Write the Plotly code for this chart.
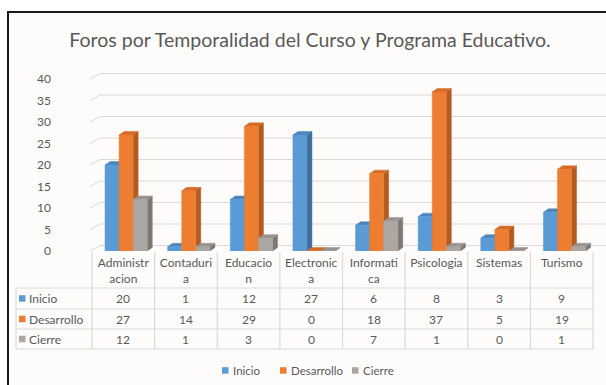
import plotly.graph_objects as go

# Data
programas = ["Administr<br>acion", "Contaduri<br>a", "Educacio<br>n", "Electronic<br>a",
             "Informati<br>ca", "Psicologia", "Sistemas", "Turismo"]
series = ["Inicio", "Desarrollo", "Cierre"]
inicio = [20, 1, 12, 27, 6, 8, 3, 9]
desarrollo = [27, 14, 29, 0, 18, 37, 5, 19]
cierre = [12, 1, 3, 0, 7, 1, 0, 1]
y_ticks = [0, 5, 10, 15, 20, 25, 30, 35, 40]

valores = [inicio, desarrollo, cierre]
front = ["#5b9bd5", "#ed7d31", "#aca6a2"]
top = ["#4c86bc", "#d56c27", "#99938f"]
side = ["#3d6e9c", "#b35b21", "#7d7874"]

FONT = "Lato"
TXT = "#595959"
GRID = "#dcd9d6"

W, H = 606, 385
L, R, T, B = 92, 593, 60, 251   # plot area in pixels
YMAX = (B - T) / ((B - 79) / 40)


def px(x):
    return (x - L) / (R - L)


def py(y):
    return (B - y) / (B - T)


# 3D bar geometry (data units)
offsets = [-0.18, 0.045, 0.27]
bw = 0.224
dx = 0.08
dy = 0.8

fig = go.Figure()

for s in range(3):
    for i, v in enumerate(valores[s]):
        x0 = i + offsets[s] - bw / 2
        x1 = x0 + bw
        # right side face
        fig.add_trace(go.Scatter(
            x=[x1, x1 + dx, x1 + dx, x1, x1], y=[0, dy, v + dy, v, 0],
            mode="lines", line=dict(width=0.5, color=side[s]), fill="toself",
            fillcolor=side[s], showlegend=False, hoverinfo="skip", name=series[s]))
        # top face
        fig.add_trace(go.Scatter(
            x=[x0, x0 + dx, x1 + dx, x1, x0], y=[v, v + dy, v + dy, v, v],
            mode="lines", line=dict(width=0.5, color=top[s]), fill="toself",
            fillcolor=top[s], showlegend=False, hoverinfo="skip", name=series[s]))
        # front face
        fig.add_trace(go.Scatter(
            x=[x0, x1, x1, x0, x0], y=[0, 0, v, v, 0],
            mode="lines", line=dict(width=0.5, color=front[s]), fill="toself",
            fillcolor=front[s], showlegend=False, hoverinfo="skip", name=series[s]))

shapes = []
annotations = []

# chart frame
shapes.append(dict(type="rect", xref="paper", yref="paper", layer="below",
                   x0=px(8), x1=px(620), y0=py(12), y1=py(400),
                   line=dict(color="#1a1a1a", width=2), fillcolor="#fdfcfb"))
# back wall gridlines with perspective step
back = (B - 245.5) / ((B - 79) / 40)
for v in y_ticks:
    shapes.append(dict(type="line", xref="paper", yref="y", layer="below",
                       x0=px(90), x1=px(100), y0=v, y1=v + back,
                       line=dict(color=GRID, width=1)))
    shapes.append(dict(type="line", xref="paper", yref="y", layer="below",
                       x0=px(100), x1=px(606), y0=v + back, y1=v + back,
                       line=dict(color=GRID, width=1)))

# data table grid
col_w = (R - L) / len(programas)
rows_y = [288, 309, 329, 349]
for yy in rows_y:
    shapes.append(dict(type="line", xref="paper", yref="paper",
                       x0=px(16), x1=px(R), y0=py(yy), y1=py(yy),
                       line=dict(color=GRID, width=1.2)))
shapes.append(dict(type="line", xref="paper", yref="paper",
                   x0=px(16), x1=px(16), y0=py(288), y1=py(349),
                   line=dict(color=GRID, width=1.2)))
for k in range(len(programas) + 1):
    xx = L + k * col_w
    shapes.append(dict(type="line", xref="paper", yref="paper",
                       x0=px(xx), x1=px(xx), y0=py(252), y1=py(349),
                       line=dict(color=GRID, width=1.2)))


def key(x_left, yc, color):
    """Small square colour key like the legend symbol."""
    shapes.append(dict(type="rect", xref="paper", yref="paper", line=dict(width=0),
                       fillcolor=color, x0=px(x_left), x1=px(x_left + 6.5),
                       y0=py(yc + 3.2), y1=py(yc - 3.3)))


# table rows: series label + values
row_centers = [298.5, 319, 339]
for s in range(3):
    yc = row_centers[s]
    key(19, yc, front[s])
    annotations.append(dict(text=series[s], x=px(27), y=py(yc), xref="paper",
                            yref="paper", xanchor="left", yanchor="middle",
                            showarrow=False, font=dict(family=FONT, size=12, color=TXT)))
    for i, v in enumerate(valores[s]):
        annotations.append(dict(text=str(v), x=i, y=py(yc), xref="x", yref="paper",
                                xanchor="center", yanchor="middle", showarrow=False,
                                font=dict(family=FONT, size=12, color=TXT)))

# legend row at the bottom
legend_x = [222, 280, 352]
for s in range(3):
    key(legend_x[s], 370.5, front[s])
    annotations.append(dict(text=series[s], x=px(legend_x[s] + 8.5), y=py(370.5),
                            xref="paper", yref="paper", xanchor="left",
                            yanchor="middle", showarrow=False,
                            font=dict(family=FONT, size=11.5, color=TXT)))

fig.update_layout(
    width=W, height=H, autosize=False, showlegend=False,
    margin=dict(l=L, r=W - R, t=T, b=H - B, pad=0, autoexpand=False),
    paper_bgcolor="white", plot_bgcolor="rgba(0,0,0,0)",
    title=dict(text="Foros por Temporalidad del Curso y Programa Educativo.",
               x=310 / W, xref="container", xanchor="center",
               y=1 - 40 / H, yref="container", yanchor="middle",
               font=dict(family=FONT, size=19.5, color=TXT)),
    xaxis=dict(range=[-0.5, len(programas) - 0.5], tickvals=list(range(len(programas))),
               ticktext=programas, showgrid=False, zeroline=False, showline=False,
               ticks="", ticklabelstandoff=3, automargin=False,
               tickfont=dict(family=FONT, size=12, color=TXT), fixedrange=True),
    yaxis=dict(range=[0, YMAX], tickvals=y_ticks, showgrid=False, zeroline=False,
               showline=False, ticks="", ticklabelstandoff=40, automargin=False,
               tickfont=dict(family=FONT, size=12, color=TXT), fixedrange=True),
    shapes=shapes, annotations=annotations,
)

fig.write_html("out.html")
